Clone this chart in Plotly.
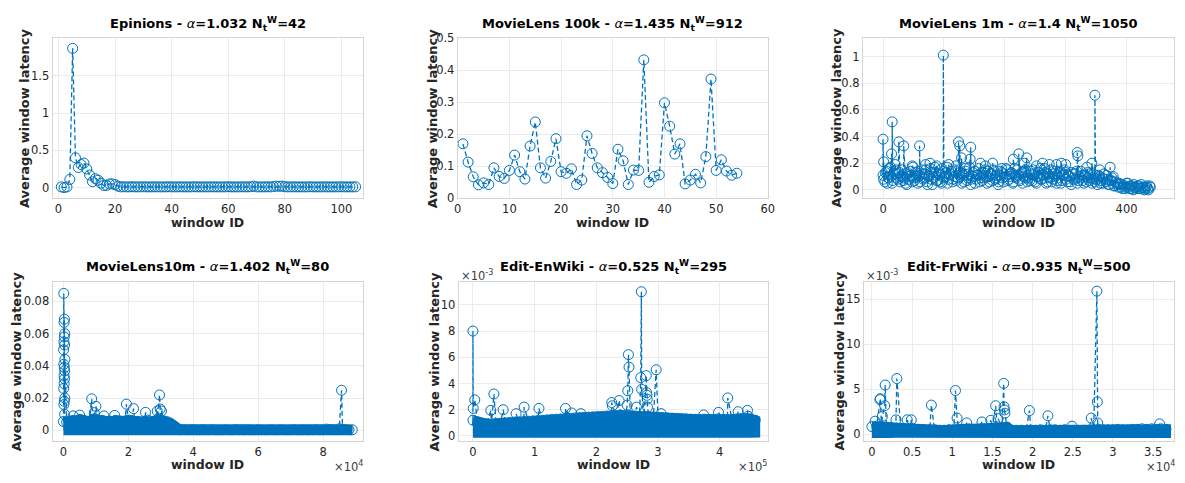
import plotly.graph_objects as go

BLUE = "#0072BD"
FONT = "DejaVu Sans"
FIG_W, FIG_H = 1185, 483

# ---------------- data ----------------
# Epinions (window 1..105)
epinions_lat = [0.01, 0.00, 0.01, 0.11, 1.87, 0.40, 0.27, 0.31, 0.33, 0.25,
                0.17, 0.08, 0.12, 0.10, 0.06, 0.03, 0.03, 0.05, 0.05, 0.04,
                0.02, 0.01, 0.012, 0.01, 0.01, 0.012, 0.01, 0.01, 0.01, 0.012,
                0.01, 0.01, 0.01, 0.011, 0.01, 0.01, 0.01, 0.01, 0.012, 0.01,
                0.01, 0.01, 0.011, 0.01, 0.01, 0.01, 0.01, 0.012, 0.01, 0.01,
                0.01, 0.01, 0.01, 0.011, 0.01, 0.01, 0.01, 0.01, 0.01, 0.012,
                0.01, 0.01, 0.01, 0.01, 0.011, 0.01, 0.01, 0.012, 0.02, 0.01,
                0.01, 0.01, 0.01, 0.011, 0.01, 0.015, 0.02, 0.018, 0.02, 0.012,
                0.01, 0.01, 0.011, 0.01, 0.01, 0.01, 0.01, 0.01, 0.012, 0.01,
                0.01, 0.01, 0.01, 0.011, 0.01, 0.01, 0.01, 0.01, 0.01, 0.012,
                0.01, 0.01, 0.01, 0.01, 0.011]
epinions_id = list(range(1, len(epinions_lat) + 1))

# MovieLens 100k (window 1..54)
ml100k_lat = [0.170, 0.113, 0.067, 0.042, 0.048, 0.043, 0.095, 0.068, 0.062, 0.087,
              0.135, 0.083, 0.060, 0.163, 0.238, 0.095, 0.063, 0.115, 0.186, 0.083,
              0.078, 0.092, 0.043, 0.057, 0.195, 0.140, 0.095, 0.080, 0.065, 0.046,
              0.153, 0.117, 0.043, 0.088, 0.087, 0.432, 0.050, 0.068, 0.073, 0.298,
              0.225, 0.138, 0.170, 0.045, 0.057, 0.075, 0.048, 0.130, 0.372, 0.087,
              0.120, 0.085, 0.072, 0.078]
ml100k_id = list(range(1, len(ml100k_lat) + 1))

# MovieLens 1m : two interleaved samples of the windows + visible outliers
ml1m_lat = [0.11, 0.06, 0.14, 0.09, 0.17, 0.05, 0.12, 0.15, 0.08, 0.13,
            0.10, 0.07, 0.12, 0.04, 0.10, 0.14, 0.06, 0.09, 0.13, 0.05,
            0.11, 0.15, 0.08, 0.12, 0.06, 0.10, 0.16, 0.04, 0.09, 0.13,
            0.07, 0.11, 0.05, 0.14, 0.10, 0.17, 0.08, 0.12, 0.06, 0.15,
            0.18, 0.09, 0.13, 0.05, 0.11, 0.16, 0.07, 0.12, 0.04, 0.10,
            0.14, 0.08, 0.11, 0.06, 0.13, 0.09, 0.15, 0.05, 0.10, 0.12,
            0.07, 0.14, 0.09, 0.04, 0.11, 0.13, 0.06, 0.10, 0.15, 0.08,
            0.12, 0.05, 0.16, 0.09, 0.11, 0.07, 0.13, 0.10, 0.15, 0.06,
            0.09, 0.14, 0.07, 0.12, 0.05, 0.10, 0.16, 0.08, 0.11, 0.13,
            0.06, 0.10, 0.15, 0.08, 0.12, 0.05, 0.09, 0.14, 0.07, 0.11,
            0.13, 0.06, 0.10, 0.04, 0.12, 0.08, 0.14, 0.07, 0.09, 0.11,
            0.05, 0.10, 0.13, 0.07, 0.09, 0.12, 0.06, 0.08, 0.11, 0.05,
            0.09, 0.12, 0.06, 0.08, 0.04, 0.07, 0.10, 0.03, 0.05, 0.02,
            0.04, 0.01, 0.03, 0.02, 0.05, 0.01, 0.03, 0.00, 0.02, 0.01,
            0.03, 0.01, 0.02, 0.00, 0.02, 0.01, 0.03]
ml1m_id = list(range(0, 3 * len(ml1m_lat), 3))
ml1m_lat_b = [0.08, 0.13, 0.05, 0.16, 0.10, 0.07, 0.14, 0.09, 0.12, 0.06,
              0.15, 0.09, 0.05, 0.13, 0.08, 0.11, 0.17, 0.07, 0.10, 0.14,
              0.06, 0.12, 0.09, 0.15, 0.04, 0.11, 0.08, 0.13, 0.17, 0.07,
              0.12, 0.06, 0.16, 0.09, 0.13, 0.05, 0.11, 0.14, 0.08, 0.10,
              0.07, 0.15, 0.10, 0.12, 0.06, 0.14, 0.09, 0.17, 0.08, 0.13,
              0.05, 0.11, 0.16, 0.09, 0.07, 0.13, 0.10, 0.14, 0.06, 0.12,
              0.15, 0.08, 0.11, 0.06, 0.14, 0.09, 0.12, 0.16, 0.07, 0.10,
              0.13, 0.06, 0.10, 0.15, 0.08, 0.12, 0.05, 0.14, 0.09, 0.11,
              0.07, 0.12, 0.15, 0.06, 0.10, 0.13, 0.08, 0.11, 0.16, 0.05,
              0.12, 0.09, 0.06, 0.14, 0.10, 0.07, 0.13, 0.05, 0.11, 0.15,
              0.08, 0.11, 0.06, 0.13, 0.09, 0.12, 0.05, 0.10, 0.14, 0.07,
              0.11, 0.06, 0.09, 0.12, 0.05, 0.08, 0.11, 0.04, 0.10, 0.07,
              0.05, 0.08, 0.11, 0.04, 0.07, 0.09, 0.03, 0.06, 0.04, 0.05,
              0.02, 0.04, 0.01, 0.05, 0.02, 0.03, 0.01, 0.04, 0.02, 0.03,
              0.01, 0.04, 0.02, 0.01, 0.03, 0.00, 0.02]
ml1m_id_b = list(range(1, 3 * len(ml1m_lat_b) + 1, 3))
ml1m_out_id = [0, 1, 14, 15, 20, 26, 34, 60, 99, 124, 126, 129, 144, 143, 180, 214,
               223, 236, 273, 300, 319, 320, 343, 348, 373, 48, 70, 77, 88, 108,
               160, 168, 195, 232, 252, 262, 285, 293, 335, 356]
ml1m_out_lat = [0.38, 0.21, 0.27, 0.51, 0.19, 0.36, 0.33, 0.33, 1.01, 0.36, 0.33, 0.24,
                0.32, 0.23, 0.20, 0.23, 0.27, 0.24, 0.19, 0.19, 0.28, 0.255, 0.20, 0.71,
                0.17, 0.18, 0.19, 0.20, 0.18, 0.19, 0.20, 0.18, 0.16, 0.20, 0.18, 0.20,
                0.19, 0.20, 0.17, 0.15]

# MovieLens 10m : dense band envelope (windows every 1000) + outliers
ml10m_band_id = list(range(0, 90000, 1000))
ml10m_band_hi = [0.0055, 0.0050, 0.0058, 0.0062, 0.0056, 0.0068, 0.0064, 0.0058, 0.0054, 0.0070,
                 0.0066, 0.0058, 0.0062, 0.0052, 0.0058, 0.0054, 0.0062, 0.0058, 0.0052, 0.0058,
                 0.0064, 0.0058, 0.0052, 0.0056, 0.0052, 0.0058, 0.0064, 0.0054, 0.0058, 0.0068,
                 0.0064, 0.0058, 0.0054, 0.0045, 0.0030,
                 0.0005, 0.0004, 0.0005, 0.0004, 0.0004, 0.0005, 0.0004, 0.0004, 0.0005, 0.0004,
                 0.0004, 0.0005, 0.0004, 0.0004, 0.0004, 0.0005, 0.0004, 0.0004, 0.0005, 0.0004,
                 0.0004, 0.0004, 0.0005, 0.0004, 0.0004, 0.0005, 0.0004, 0.0004, 0.0004, 0.0005,
                 0.0004, 0.0004, 0.0005, 0.0004, 0.0004, 0.0004, 0.0005, 0.0004, 0.0004, 0.0005,
                 0.0004, 0.0004, 0.0004, 0.0005, 0.0004, 0.0004, 0.0008, 0.0006, 0.0005, 0.0004,
                 0.0010, 0.0006, 0.0005, 0.0004, 0.0004]
ml10m_band_lo = [0.0001, 0.0001, 0.0002, 0.0001, 0.0001, 0.0001, 0.0002, 0.0001, 0.0001, 0.0001,
                 0.0002, 0.0001, 0.0001, 0.0001, 0.0002, 0.0001, 0.0001, 0.0001, 0.0002, 0.0001,
                 0.0001, 0.0001, 0.0002, 0.0001, 0.0001, 0.0001, 0.0002, 0.0001, 0.0001, 0.0001,
                 0.0002, 0.0001, 0.0001, 0.0001, 0.0001,
                 0.0001, 0.0001, 0.0001, 0.0001, 0.0001, 0.0001, 0.0001, 0.0001, 0.0001, 0.0001,
                 0.0001, 0.0001, 0.0001, 0.0001, 0.0001, 0.0001, 0.0001, 0.0001, 0.0001, 0.0001,
                 0.0001, 0.0001, 0.0001, 0.0001, 0.0001, 0.0001, 0.0001, 0.0001, 0.0001, 0.0001,
                 0.0001, 0.0001, 0.0001, 0.0001, 0.0001, 0.0001, 0.0001, 0.0001, 0.0001, 0.0001,
                 0.0001, 0.0001, 0.0001, 0.0001, 0.0001, 0.0001, 0.0001, 0.0001, 0.0001, 0.0001,
                 0.0001, 0.0001, 0.0001, 0.0001, 0.0001]
ml10m_out_id = [100, 300, 200, 400, 250, 150, 350, 50, 450, 120, 280, 380, 180, 320, 220,
                80, 420, 260, 140, 360, 8700, 10000, 9500, 15800, 19400, 21600, 25300,
                29600, 29800, 30200, 28900, 5000, 3000, 12500, 85700]
ml10m_out_lat = [0.085, 0.069, 0.067, 0.060, 0.058, 0.055, 0.053, 0.050, 0.044, 0.041,
                 0.039, 0.037, 0.034, 0.032, 0.029, 0.026, 0.020, 0.018, 0.016, 0.010,
                 0.0196, 0.0149, 0.011, 0.0093, 0.0163, 0.0135, 0.0112,
                 0.022, 0.0133, 0.012, 0.012, 0.0095, 0.009, 0.009, 0.0249]

# Edit-EnWiki (latency in units of 1e-3)
enwiki_band_id = list(range(0, 465000, 7500))
enwiki_band_hi = [1.20, 1.05, 0.95, 0.92, 0.92, 0.95, 0.97, 1.00, 1.02, 1.05,
                  1.07, 1.10, 1.12, 1.15, 1.17, 1.20, 1.23, 1.26, 1.28, 1.30,
                  1.33, 1.35, 1.37, 1.40, 1.42, 1.44, 1.46, 1.48, 1.50, 1.52,
                  1.54, 1.56, 1.58, 1.55, 1.55, 1.52, 1.50, 1.50, 1.47, 1.45,
                  1.42, 1.40, 1.38, 1.36, 1.34, 1.32, 1.30, 1.28, 1.27, 1.26,
                  1.28, 1.26, 1.25, 1.30, 1.25, 1.22, 1.25, 1.30, 1.32, 1.35,
                  1.30, 1.20]
enwiki_band_lo = [0.25, 0.24, 0.25, 0.26, 0.25, 0.24, 0.25, 0.25, 0.26, 0.25,
                  0.24, 0.25, 0.25, 0.26, 0.25, 0.24, 0.25, 0.25, 0.26, 0.25,
                  0.24, 0.25, 0.25, 0.26, 0.25, 0.24, 0.25, 0.25, 0.26, 0.25,
                  0.24, 0.25, 0.25, 0.26, 0.25, 0.24, 0.25, 0.25, 0.26, 0.25,
                  0.24, 0.25, 0.25, 0.26, 0.25, 0.24, 0.25, 0.25, 0.26, 0.25,
                  0.24, 0.25, 0.25, 0.26, 0.25, 0.24, 0.25, 0.25, 0.26, 0.25,
                  0.24, 0.25]
enwiki_out_id = [0, 3000, 500, 34000, 29000, 49000, 70000, 83000, 107000, 150000,
                 160000, 175000, 225000, 226000, 237000, 252000, 253000, 251000, 250000,
                 265000, 273000, 272000, 273500, 281000, 281500, 282000, 282500, 283000,
                 297000, 305000, 374000, 398000, 413000, 430000, 445000, 446000]
enwiki_out_lat = [8.0, 2.75, 2.1, 3.2, 1.95, 2.0, 1.7, 2.2, 2.1, 2.1,
                  1.75, 1.7, 2.55, 2.3, 2.7, 6.2, 5.25, 3.45, 2.35,
                  2.2, 11.0, 4.45, 3.55, 4.6, 3.3, 3.1, 2.8, 2.2,
                  5.05, 1.7, 1.6, 1.8, 2.9, 1.85, 1.95, 1.5]

# Edit-FrWiki (latency in units of 1e-3)
frwiki_band_id = list(range(0, 37200, 600))
frwiki_band_hi = [0.85, 0.90, 0.85, 0.80, 0.75, 0.70, 0.65, 0.60, 0.60, 0.55,
                  0.55, 0.50, 0.50, 0.50, 0.45, 0.45, 0.50, 0.50, 0.55, 0.55,
                  0.60, 0.55, 0.55, 0.60, 0.60, 0.65, 0.70, 0.75, 0.80, 0.45,
                  0.45, 0.45, 0.40, 0.45, 0.45, 0.50, 0.45, 0.50, 0.50, 0.45,
                  0.50, 0.45, 0.45, 0.40, 0.45, 0.45, 0.50, 0.55, 0.50, 0.50,
                  0.50, 0.55, 0.50, 0.50, 0.55, 0.55, 0.60, 0.55, 0.60, 0.55,
                  0.60, 0.55]
frwiki_band_lo = [0.15, 0.16, 0.15, 0.14, 0.15, 0.16, 0.15, 0.15, 0.14, 0.15,
                  0.16, 0.15, 0.15, 0.14, 0.15, 0.16, 0.15, 0.15, 0.14, 0.15,
                  0.16, 0.15, 0.15, 0.14, 0.15, 0.16, 0.15, 0.15, 0.14, 0.15,
                  0.16, 0.15, 0.15, 0.14, 0.15, 0.16, 0.15, 0.15, 0.14, 0.15,
                  0.16, 0.15, 0.15, 0.14, 0.15, 0.16, 0.15, 0.15, 0.14, 0.15,
                  0.16, 0.15, 0.15, 0.14, 0.15, 0.16, 0.15, 0.15, 0.14, 0.15,
                  0.16, 0.15]
frwiki_out_id = [1000, 1050, 1600, 1650, 3100, 3000, 1300, 400, 4400, 4900,
                 7400, 10400, 10600, 11800, 13700, 14800, 15400, 15700, 16400, 16450,
                 16500, 16550, 19600, 21900, 24900, 27300, 28000, 28050, 28100, 35800]
frwiki_out_lat = [3.85, 3.95, 3.17, 5.47, 6.19, 1.6, 2.0, 1.45, 1.6, 1.6,
                  3.24, 4.86, 1.8, 1.26, 1.37, 1.55, 3.17, 1.73, 5.65, 3.05,
                  2.7, 2.34, 2.63, 2.05, 0.9, 1.8, 15.9, 3.6, 1.25, 1.15]

titles = [
    "<b>Epinions - </b><i>α</i><b>=1.032 N<sub>t</sub><sup>W</sup>=42</b>",
    "<b>MovieLens 100k - </b><i>α</i><b>=1.435 N<sub>t</sub><sup>W</sup>=912</b>",
    "<b>MovieLens 1m - </b><i>α</i><b>=1.4 N<sub>t</sub><sup>W</sup>=1050</b>",
    "<b>MovieLens10m - </b><i>α</i><b>=1.402 N<sub>t</sub><sup>W</sup>=80</b>",
    "<b>Edit-EnWiki - </b><i>α</i><b>=0.525 N<sub>t</sub><sup>W</sup>=295</b>",
    "<b>Edit-FrWiki - </b><i>α</i><b>=0.935 N<sub>t</sub><sup>W</sup>=500</b>",
]

# ---------------- layout geometry (pixels) ----------------
boxes = [(49, 362, 32, 197), (458, 771, 32, 197), (867, 1181, 32, 197),
         (49, 362, 283, 447), (459, 771, 283, 447), (868, 1181, 283, 447)]
ylabel_x = [20, 432, 840, 13, 434, 843]

xranges = [[-2.1, 107.5], [0, 60], [-33, 478], [-3360, 92200], [-23000, 478000], [-990, 37600]]
yranges = [[-0.143, 2.008], [0, 0.5], [-0.063, 1.138], [-0.0066, 0.0922], [-0.39, 11.76], [-0.755, 16.94]]
xticks = [
    (list(range(0, 101, 20)), None),
    (list(range(0, 61, 10)), None),
    (list(range(0, 401, 100)), None),
    ([0, 20000, 40000, 60000, 80000], ["0", "2", "4", "6", "8"]),
    ([0, 100000, 200000, 300000, 400000], ["0", "1", "2", "3", "4"]),
    ([0, 5000, 10000, 15000, 20000, 25000, 30000, 35000],
     ["0", "0.5", "1", "1.5", "2", "2.5", "3", "3.5"]),
]
yticks = [
    ([0, 0.5, 1, 1.5], ["0", "0.5", "1", "1.5"]),
    ([0, 0.1, 0.2, 0.3, 0.4, 0.5], ["0", "0.1", "0.2", "0.3", "0.4", "0.5"]),
    ([0, 0.2, 0.4, 0.6, 0.8, 1.0], ["0", "0.2", "0.4", "0.6", "0.8", "1"]),
    ([0, 0.02, 0.04, 0.06, 0.08], ["0", "0.02", "0.04", "0.06", "0.08"]),
    ([0, 2, 4, 6, 8, 10], ["0", "2", "4", "6", "8", "10"]),
    ([0, 5, 10, 15], ["0", "5", "10", "15"]),
]


def px_x(p):
    return p / FIG_W


def px_y(p):
    return 1 - p / FIG_H


fig = go.Figure()


def axis_names(k):
    return ("x" if k == 1 else f"x{k}"), ("y" if k == 1 else f"y{k}")


def add_series(k, ids, lat):
    xa, ya = axis_names(k)
    fig.add_trace(go.Scatter(
        x=ids, y=lat, mode="lines+markers", xaxis=xa, yaxis=ya,
        line=dict(color=BLUE, width=1.3, dash="5px,3px"),
        marker=dict(symbol="circle-open", size=10, color=BLUE, line=dict(width=1, color=BLUE)),
        showlegend=False, hoverinfo="skip"))


def add_band(k, ids, hi, lo):
    xa, ya = axis_names(k)
    fig.add_trace(go.Scatter(
        x=ids + ids[::-1], y=hi + lo[::-1], mode="lines", fill="toself",
        fillcolor=BLUE, line=dict(color=BLUE, width=10),
        xaxis=xa, yaxis=ya, showlegend=False, hoverinfo="skip"))


def merged(ids_a, lat_a, ids_b, lat_b):
    pts = sorted(zip(ids_a + ids_b, lat_a + lat_b), key=lambda p: p[0])
    return [p[0] for p in pts], [p[1] for p in pts]


add_series(1, epinions_id, epinions_lat)
add_series(2, ml100k_id, ml100k_lat)
m_ids, m_lat = merged(ml1m_id, ml1m_lat, ml1m_id_b, ml1m_lat_b)
add_series(3, *merged(m_ids, m_lat, ml1m_out_id, ml1m_out_lat))

add_band(4, ml10m_band_id, ml10m_band_hi, ml10m_band_lo)
add_series(4, *merged(ml10m_band_id, ml10m_band_hi, ml10m_out_id, ml10m_out_lat))

add_band(5, enwiki_band_id, enwiki_band_hi, enwiki_band_lo)
add_series(5, *merged(enwiki_band_id, enwiki_band_hi, enwiki_out_id, enwiki_out_lat))

add_band(6, frwiki_band_id, frwiki_band_hi, frwiki_band_lo)
add_series(6, *merged(frwiki_band_id, frwiki_band_hi, frwiki_out_id, frwiki_out_lat))

layout = dict(
    width=FIG_W, height=FIG_H, margin=dict(l=0, r=0, t=0, b=0),
    paper_bgcolor="white", plot_bgcolor="white",
    font=dict(family=FONT, size=12, color="#262626"),
    showlegend=False,
)

annotations = []
for i in range(6):
    k = i + 1
    l, r, t, b = boxes[i]
    xkey = "xaxis" if k == 1 else f"xaxis{k}"
    ykey = "yaxis" if k == 1 else f"yaxis{k}"
    common = dict(showgrid=True, gridcolor="#ebebeb", gridwidth=1, zeroline=False,
                  showline=True, linecolor="#d4d4d4", linewidth=1, mirror=True,
                  ticks="", tickfont=dict(family=FONT, size=11.5, color="#262626"),
                  fixedrange=True)
    xv, xt = xticks[i]
    yv, yt = yticks[i]
    layout[xkey] = dict(domain=[px_x(l), px_x(r)], range=xranges[i],
                        anchor=("y" if k == 1 else f"y{k}"),
                        tickmode="array", tickvals=xv, ticktext=xt if xt else [str(v) for v in xv],
                        **common)
    layout[ykey] = dict(domain=[px_y(b), px_y(t)], range=yranges[i],
                        anchor=("x" if k == 1 else f"x{k}"),
                        tickmode="array", tickvals=yv, ticktext=yt, **common)
    cx = (l + r) / 2
    # title
    annotations.append(dict(text=titles[i], x=px_x(cx), y=px_y(t - 15), xref="paper", yref="paper",
                            xanchor="center", yanchor="middle", showarrow=False,
                            font=dict(family=FONT, size=13, color="black")))
    # x label
    annotations.append(dict(text="<b>window ID</b>", x=px_x(cx), y=px_y(b + 24.5), xref="paper",
                            yref="paper", xanchor="center", yanchor="middle", showarrow=False,
                            font=dict(family=FONT, size=12.5, color="#262626")))
    # y label
    annotations.append(dict(text="<b>Average window latency</b>", x=px_x(ylabel_x[i]),
                            y=px_y((t + b) / 2), xref="paper", yref="paper", textangle=-90,
                            xanchor="center", yanchor="middle", showarrow=False,
                            font=dict(family=FONT, size=13, color="#262626")))

# exponent labels
for xp, txt in [(348, "×10<sup>4</sup>"), (756, "×10<sup>5</sup>"), (1167, "×10<sup>4</sup>")]:
    annotations.append(dict(text=txt, x=px_x(xp), y=px_y(473), xref="paper", yref="paper",
                            xanchor="center", yanchor="middle", showarrow=False,
                            font=dict(family=FONT, size=11.5, color="#404040")))
for xp in [459, 868]:
    annotations.append(dict(text="×10<sup>-3</sup>", x=px_x(xp), y=px_y(277), xref="paper",
                            yref="paper", xanchor="left", yanchor="middle", showarrow=False,
                            font=dict(family=FONT, size=11.5, color="#404040")))

layout["annotations"] = annotations
fig.update_layout(**layout)
fig.write_html("out.html", config={"displayModeBar": False},
               post_script="document.body.style.margin='0';document.body.style.padding='0';")
